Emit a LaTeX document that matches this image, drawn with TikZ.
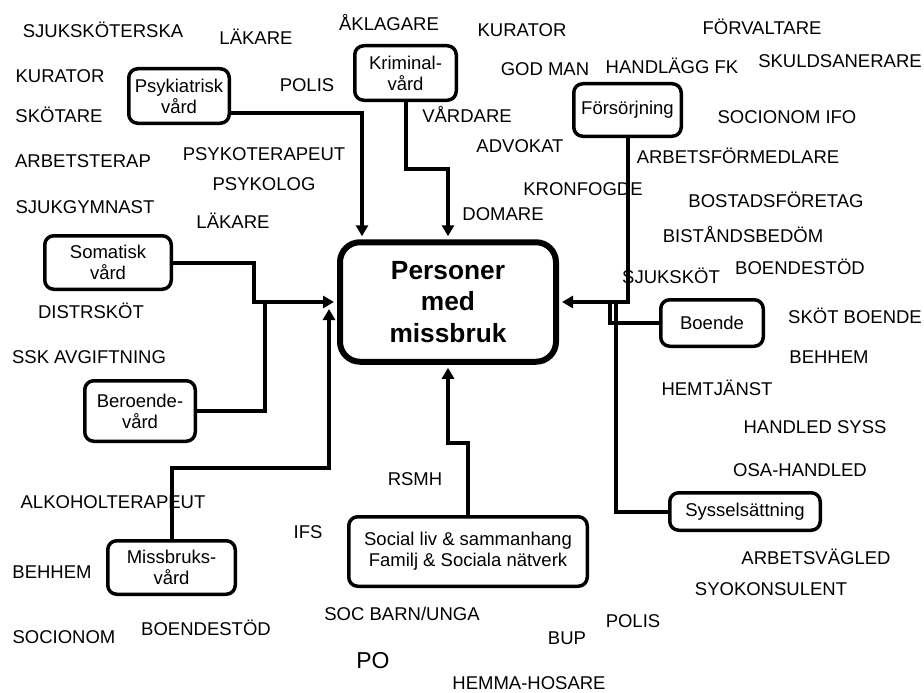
\documentclass[tikz,border=0pt]{standalone}
\usepackage{fontspec}
\setmainfont{Liberation Sans}
\usetikzlibrary{arrows.meta,calc}
\begin{document}
\begin{tikzpicture}[x=1pt,y=-1pt,
  lbl/.style={anchor=base,inner sep=0pt,font=\fontsize{18.5}{21}\selectfont},
  area/.style={draw,line width=3.5pt,rounded corners=9pt,align=center,inner sep=0pt,
    font=\fontsize{18.5}{21}\selectfont},
  hub/.style={draw,line width=6pt,rounded corners=20pt,align=center,inner sep=0pt,
    font=\fontsize{26.3}{31.5}\selectfont\bfseries,minimum width=216pt,minimum height=119.5pt},
  conn/.style={line width=4pt},
  arr/.style={conn,-{Triangle[length=11pt,width=12pt]},shorten >=3pt}
]
\useasboundingbox (0,0) rectangle (924,693);

% central node
\node[hub] (hub) at (448,302) {Personer\\med\\missbruk};

% areas of care and support
\node[area,minimum width=100.5pt,minimum height=54.5pt] (psyk) at (179,96) {Psykiatrisk\\vård};
\node[area,minimum width=101.5pt,minimum height=54.5pt] (krim) at (405.5,73) {Kriminal-\\vård};
\node[area,minimum width=107.5pt,minimum height=52.5pt] (fors) at (627.5,110) {Försörjning};
\node[area,minimum width=126.5pt,minimum height=53.5pt] (soma) at (108,262.5) {Somatisk\\vård};
\node[area,minimum width=110.5pt,minimum height=60.5pt] (bero) at (140,411) {Beroende-\\vård};
\node[area,minimum width=127.5pt,minimum height=53.5pt] (miss) at (171.5,567.5) {Missbruks-\\vård};
\node[area,minimum width=238.5pt,minimum height=69.5pt] (soc) at (468,551.5) {Social liv \& sammanhang\\Familj \& Sociala nätverk};
\node[area,minimum width=102.5pt,minimum height=46.5pt] (boende) at (712,323) {Boende};
\node[area,minimum width=150.5pt,minimum height=37.5pt] (syss) at (745,511.5) {Sysselsättning};

% connectors
\draw[arr] ($(psyk.east)+(0,17)$) -| ($(hub.north)+(-86,0)$);
\draw[arr] (krim.south) |- ($(hub.north)+(0,-70)$) -- (hub.north);
\draw[arr] (fors.south) |- (hub.east);
\draw[conn] (boende.west) -| ($(hub.east)+(51,0)$);
\draw[conn] (syss.west) -| ($(hub.east)+(57,0)$);
\draw[arr] (soma.east) -| ($(hub.west)+(-83,0)$) -- (hub.west);
\draw[conn] (bero.east) -| ($(hub.west)+(-72,0)$);
\draw[arr,shorten >=0pt] (miss.north) |- ($(hub.west)+(-8,166)$) -- ($(hub.west)+(-8,7)$);
\draw[arr] (soc.north) |- ($(hub.south)+(0,78)$) -- (hub.south);

% professions
\node[lbl] (l1) at (103,38) {SJUKSKÖTERSKA};
\node[lbl] (l2) at (256,45) {LÄKARE};
\node[lbl] (l3) at (60,83) {KURATOR};
\node[lbl] (l4) at (59,122) {SKÖTARE};
\node[lbl] (l5) at (83,167) {ARBETSTERAP};
\node[lbl] (l6) at (85,213) {SJUKGYMNAST};
\node[lbl] (l7) at (264,160) {PSYKOTERAPEUT};
\node[lbl] (l8) at (264,190) {PSYKOLOG};
\node[lbl] (l9) at (233,228) {LÄKARE};
\node[lbl] (l10) at (307,92) {POLIS};
\node[lbl] (l11) at (389,31) {ÅKLAGARE};
\node[lbl] (l12) at (522,37) {KURATOR};
\node[lbl] (l13) at (545,76) {GOD MAN};
\node[lbl] (l14) at (467,122) {VÅRDARE};
\node[lbl] (l15) at (520,152) {ADVOKAT};
\node[lbl] (l16) at (583,195) {KRONFOGDE};
\node[lbl] (l17) at (503,220) {DOMARE};
\node[lbl] (l18) at (672,74) {HANDLÄGG FK};
\node[lbl] (l19) at (762,35) {FÖRVALTARE};
\node[lbl] (l20) at (840,67) {SKULDSANERARE};
\node[lbl] (l21) at (787,123) {SOCIONOM IFO};
\node[lbl] (l22) at (738,163) {ARBETSFÖRMEDLARE};
\node[lbl] (l23) at (776,207) {BOSTADSFÖRETAG};
\node[lbl] (l24) at (743,242) {BISTÅNDSBEDÖM};
\node[lbl] (l25) at (800,274) {BOENDESTÖD};
\node[lbl] (l26) at (671,283) {SJUKSKÖT};
\node[lbl] (l27) at (855,323) {SKÖT BOENDE};
\node[lbl] (l28) at (829,363) {BEHHEM};
\node[lbl] (l29) at (717,395) {HEMTJÄNST};
\node[lbl] (l30) at (815,433) {HANDLED SYSS};
\node[lbl] (l31) at (800,476) {OSA-HANDLED};
\node[lbl] (l32) at (816,564) {ARBETSVÄGLED};
\node[lbl] (l33) at (771,595) {SYOKONSULENT};
\node[lbl] (l34) at (633,627) {POLIS};
\node[lbl] (l35) at (91,318) {DISTRSKÖT};
\node[lbl] (l36) at (89,363) {SSK AVGIFTNING};
\node[lbl] (l37) at (113,508) {ALKOHOLTERAPEUT};
\node[lbl] (l38) at (308,538) {IFS};
\node[lbl] (l39) at (52,578) {BEHHEM};
\node[lbl] (l40) at (64,643) {SOCIONOM};
\node[lbl] (l41) at (206,635) {BOENDESTÖD};
\node[lbl] (l42) at (415,485) {RSMH};
\node[lbl] (l43) at (402,620) {SOC BARN/UNGA};
\node[lbl] (l44) at (567,644) {BUP};
\node[lbl,font=\fontsize{23}{27}\selectfont] (l45) at (373,668) {PO};
\node[lbl] (l46) at (529,689) {HEMMA-HOSARE};
\end{tikzpicture}
\end{document}
